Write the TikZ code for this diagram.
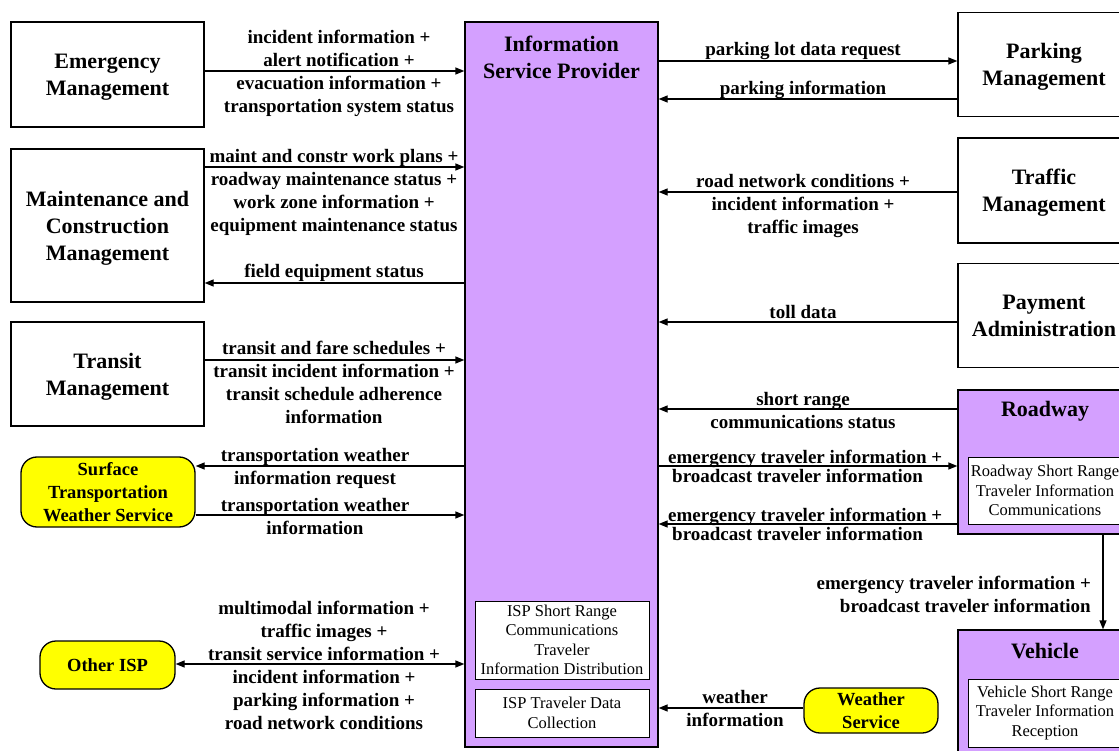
\documentclass[tikz,border=0pt]{standalone}
\usepackage{fontspec}
\setmainfont{Liberation Serif}
\usetikzlibrary{arrows.meta}

\definecolor{ispviolet}{RGB}{212,160,255}
\definecolor{termyellow}{RGB}{255,255,0}

\newcommand{\ttlfont}{\fontsize{22}{27}\selectfont\bfseries}
\newcommand{\lblfont}{\fontsize{19}{23}\selectfont\bfseries}
\newcommand{\lbltightfont}{\fontsize{19}{19}\selectfont\bfseries}
\newcommand{\pefont}{\fontsize{16.5}{19.5}\selectfont}
\newcommand{\termfont}{\fontsize{18.5}{23}\selectfont\bfseries}

\begin{document}
\begin{tikzpicture}[x=1pt,y=-1pt,
  sysbox/.style={draw, line width=1.3pt, fill=white, align=center, inner sep=0pt, text depth=0pt, font=\ttlfont},
  violetbox/.style={draw, line width=1.3pt, fill=ispviolet, inner sep=0pt},
  pebox/.style={draw, line width=1pt, fill=white, align=center, inner sep=0pt, font=\pefont},
  termbox/.style={draw, line width=1.3pt, fill=termyellow, rounded corners=16pt, align=center, inner sep=0pt, font=\termfont},
  ttl/.style={align=center, inner sep=0pt, font=\ttlfont},
  lbl/.style={align=center, inner sep=0pt, font=\lblfont},
  lbltight/.style={align=left, anchor=west, inner sep=0pt, font=\lbltightfont},
  flow/.style={line width=1.3pt, -{Triangle[length=9pt,width=7pt]}},
  biflow/.style={line width=1.3pt, {Triangle[length=9pt,width=7pt]}-{Triangle[length=9pt,width=7pt]}}
]
\useasboundingbox (0,0) rectangle (1119,751);
\clip (0,0) rectangle (1119,751);
\fill[white] (0,0) rectangle (1119,751);

% central subsystem
\node[violetbox, minimum width=193pt, minimum height=725pt] (isp) at (561.5,384.5) {};
\node[ttl] (isptitle) at (561.5,57) {Information\\Service Provider};
\node[pebox, minimum width=174pt, minimum height=78pt] (ispsr) at (562,640) {ISP Short Range\\Communications\\Traveler\\Information Distribution};
\node[pebox, minimum width=174pt, minimum height=48pt] (isptd) at (562,713) {ISP Traveler Data\\Collection};

% left column
\node[sysbox, minimum width=193pt, minimum height=105pt] (em) at (107.5,74.5) {Emergency\\Management};
\node[sysbox, minimum width=193pt, minimum height=153pt] (mcm) at (107.5,225.5) {Maintenance and\\Construction\\Management};
\node[sysbox, minimum width=193pt, minimum height=104pt] (trm) at (107.5,374) {Transit\\Management};
\node[termbox, minimum width=174pt, minimum height=70pt] (stws) at (108,492) {Surface\\Transportation\\Weather Service};
\node[termbox, minimum width=135pt, minimum height=48pt] (oisp) at (107.5,665) {Other ISP};

% right column
\node[sysbox, minimum width=172pt, minimum height=104pt] (pm) at (1044,64.5) {Parking\\Management};
\node[sysbox, minimum width=172pt, minimum height=105pt] (tfm) at (1044,190.5) {Traffic\\Management};
\node[sysbox, minimum width=172pt, minimum height=104pt] (pay) at (1044,315.5) {Payment\\Administration};

\node[violetbox, minimum width=172pt, minimum height=144pt] (rw) at (1044,462) {};
\node[ttl] (rwtitle) at (1045,411) {Roadway};
\node[pebox, minimum width=154pt, minimum height=67pt] (rwsr) at (1045,490.5) {Roadway Short Range\\Traveler Information\\Communications};

\node[violetbox, minimum width=172pt, minimum height=130pt] (veh) at (1044,695) {};
\node[ttl] (vehtitle) at (1045,651) {Vehicle};
\node[pebox, minimum width=154pt, minimum height=68pt] (vehsr) at (1045,713) {Vehicle Short Range\\Traveler Information\\Reception};

\node[termbox, minimum width=134pt, minimum height=45pt] (ws) at (871,710.5) {Weather\\Service};

% flows on the left
\draw[flow] (em.east |- 0,71) -- (isp.west |- 0,71);
\node[lbl] (lem) at (339,73.5) {incident information +\\alert notification +\\evacuation information +\\transportation system status};

\draw[flow] (mcm.east |- 0,167) -- (isp.west |- 0,167);
\node[lbl] (lmcm) at (334,192.5) {maint and constr work plans +\\roadway maintenance status +\\work zone information +\\equipment maintenance status};
\draw[flow] (isp.west |- 0,283) -- (mcm.east |- 0,283);
\node[lbl] (lfes) at (334,273) {field equipment status};

\draw[flow] (trm.east |- 0,360) -- (isp.west |- 0,360);
\node[lbl] (ltrm) at (334,382.5) {transit and fare schedules +\\transit incident information +\\transit schedule adherence\\information};

\draw[flow] (isp.west |- 0,466) -- (stws.east |- 0,466);
\node[lbl] (lstwsreq) at (315,468.5) {transportation weather\\information request};
\draw[flow] (stws.east |- 0,515) -- (isp.west |- 0,515);
\node[lbl] (lstwsinf) at (315,516) {transportation weather\\information};

\draw[biflow] (oisp.east |- 0,664) -- (isp.west |- 0,664);
\node[lbl] (loisp) at (324,665.5) {multimodal information +\\traffic images +\\transit service information +\\incident information +\\parking information +\\road network conditions};

% flows on the right
\draw[flow] (isp.east |- 0,61) -- (pm.west |- 0,61);
\node[lbl] (lpreq) at (803,51) {parking lot data request};
\draw[flow] (pm.west |- 0,99) -- (isp.east |- 0,99);
\node[lbl] (lpinf) at (803,90) {parking information};

\draw[flow] (tfm.west |- 0,192) -- (isp.east |- 0,192);
\node[lbl] (ltfm) at (803,206) {road network conditions +\\incident information +\\traffic images};

\draw[flow] (pay.west |- 0,322) -- (isp.east |- 0,322);
\node[lbl] (ltoll) at (803,312) {toll data};

\draw[flow] (rw.west |- 0,409) -- (isp.east |- 0,409);
\node[lbl] (lsrc) at (803,411) {short range\\communications status};

\draw[flow] (isp.east |- 0,466) -- (rw.west |- 0,466);
\node[lbltight] (letiout) at (668,466.5) {emergency traveler information +\\\hspace*{4pt}broadcast traveler information};
\draw[flow] (rw.west |- 0,524) -- (isp.east |- 0,524);
\node[lbltight] (letiin) at (668,524.5) {emergency traveler information +\\\hspace*{4pt}broadcast traveler information};

\draw[flow] (rw.south -| 1103,0) -- (veh.north -| 1103,0);
\node[lbl, align=right, anchor=east] (letiveh) at (1091,594.5) {emergency traveler information +\\broadcast traveler information};

\draw[flow] (ws.west |- 0,708) -- (isp.east |- 0,708);
\node[lbl] (lws) at (735,708.5) {weather\\information};
\end{tikzpicture}
\end{document}
